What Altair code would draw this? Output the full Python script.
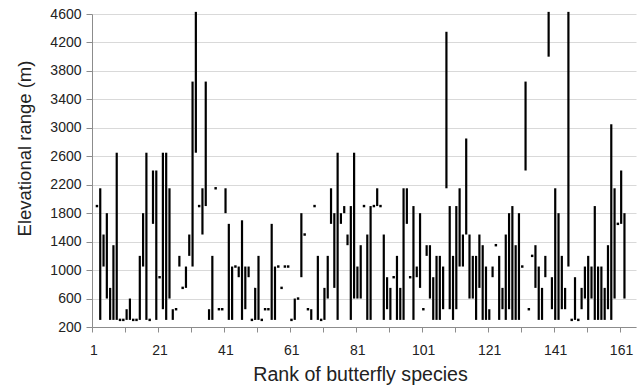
import altair as alt
import pandas as pd

# Species rank (x) and elevational range low/high (m); low == high is a single-elevation record
rank = [
    2, 3, 4, 5, 6, 7, 8, 9, 10, 11,
    12, 13, 14, 15, 16, 17, 18, 19, 20, 21,
    22, 23, 24, 25, 26, 27, 28, 29, 30, 31,
    32, 33, 34, 35, 36, 37, 38, 39, 40, 41,
    42, 43, 44, 45, 46, 47, 48, 49, 50, 51,
    52, 53, 54, 55, 56, 57, 58, 59, 60, 61,
    62, 63, 64, 65, 66, 67, 68, 69, 70, 71,
    72, 73, 74, 75, 76, 77, 78, 79, 80, 81,
    82, 83, 84, 85, 86, 87, 88, 89, 90, 91,
    92, 93, 94, 95, 96, 97, 98, 99, 100, 101,
    102, 103, 104, 105, 106, 107, 108, 109, 110, 111,
    112, 113, 114, 115, 116, 117, 118, 119, 120, 121,
    122, 123, 124, 125, 126, 127, 128, 129, 130, 131,
    132, 133, 134, 135, 136, 137, 138, 139, 140, 141,
    142, 143, 144, 145, 146, 147, 148, 149, 150, 151,
    152, 153, 154, 155, 156, 157, 158, 159, 160, 161,
    162,
]
low = [
    1900, 300, 1050, 600, 300, 300, 300, 300, 300, 300,
    300, 300, 300, 300, 1050, 300, 300, 1650, 300, 900,
    450, 300, 600, 300, 450, 1050, 750, 750, 1200, 1050,
    2650, 1900, 1500, 1900, 300, 300, 2150, 450, 450, 1800,
    300, 300, 1050, 900, 300, 450, 900, 300, 300, 300,
    300, 450, 450, 300, 300, 1050, 750, 1050, 1050, 300,
    300, 600, 900, 1500, 450, 300, 1900, 300, 300, 300,
    600, 1650, 750, 300, 1650, 1800, 1350, 300, 600, 600,
    600, 1900, 300, 300, 1900, 1900, 1900, 300, 450, 300,
    900, 300, 300, 300, 1650, 900, 300, 900, 750, 450,
    1200, 600, 300, 300, 300, 450, 2150, 450, 300, 450,
    1050, 1050, 1500, 600, 600, 300, 750, 300, 300, 300,
    900, 1350, 300, 450, 300, 450, 300, 300, 300, 1050,
    2400, 450, 1200, 750, 300, 300, 900, 4000, 450, 300,
    300, 450, 450, 1050, 300, 300, 300, 450, 600, 300,
    600, 300, 300, 300, 300, 450, 300, 600, 1650, 1650,
    600,
]
high = [
    1900, 2150, 1500, 1800, 750, 1350, 2650, 300, 300, 450,
    600, 300, 300, 1200, 1800, 2650, 300, 2400, 2400, 900,
    2650, 2650, 2150, 450, 450, 1200, 750, 1050, 1500, 3650,
    4630, 1900, 2150, 3650, 450, 1200, 2150, 450, 450, 2150,
    1650, 1050, 1050, 1050, 1700, 1050, 1050, 300, 750, 1200,
    300, 450, 450, 1650, 1050, 1050, 750, 1050, 1050, 300,
    600, 600, 1800, 1500, 450, 450, 1900, 1200, 300, 750,
    1200, 2150, 1800, 2650, 1800, 1900, 1500, 1900, 2650, 1050,
    1350, 1900, 1500, 1900, 1900, 2150, 1900, 1500, 900, 750,
    900, 1200, 750, 2150, 2150, 900, 1900, 1050, 1800, 450,
    1350, 1350, 900, 1200, 1200, 1050, 4350, 1900, 1200, 1900,
    2150, 1500, 2850, 1500, 1200, 1200, 1500, 1350, 1050, 450,
    1050, 1350, 1200, 750, 1500, 1800, 1900, 1350, 1800, 1050,
    3650, 450, 1200, 1350, 1050, 750, 1200, 4630, 900, 2150,
    1800, 1200, 750, 4630, 300, 900, 300, 750, 1050, 1200,
    1050, 1900, 1050, 1050, 750, 1350, 3050, 2150, 1650, 2400,
    1800,
]

# Axis tick positions and labels
x_tick_values = [0.5, 10.5, 20.5, 30.5, 40.5, 50.5, 60.5, 70.5, 80.5,
                 90.5, 100.5, 110.5, 120.5, 130.5, 140.5, 150.5, 160.5]
x_label_ranks = [1, 21, 41, 61, 81, 101, 121, 141, 161]
y_tick_values = [200, 600, 1000, 1400, 1800, 2200, 2600, 3000, 3400, 3800, 4200, 4600]

df = pd.DataFrame({"rank": rank, "low": low, "high": high})
ranges = df[df["low"] != df["high"]]
points = df[df["low"] == df["high"]]

FONT = "Liberation Sans"
x_scale = alt.Scale(domain=[0.5, 165.5], nice=False, zero=False)
y_scale = alt.Scale(domain=[200, 4600], nice=False, zero=False)

label_list = ",".join(str(v) for v in x_label_ranks)
x_axis = alt.Axis(
    values=x_tick_values,
    labelExpr=f"indexof([{label_list}], datum.value + 0.5) >= 0 ? format(datum.value + 0.5, 'd') : ''",
    grid=False,
    domainColor="#8c8c8c",
    tickColor="#8c8c8c",
    tickSize=5,
    labelPadding=11,
    labelOffset=1.5,
    labelOverlap=False,
    labelFlush=False,
    titleX=268,
    titleY=53,
    titleBaseline="alphabetic",
    titleAlign="center",
)
y_axis = alt.Axis(
    values=y_tick_values,
    format="d",
    grid=True,
    gridColor="#d9d9d9",
    gridWidth=1,
    domainColor="#8c8c8c",
    tickColor="#8c8c8c",
    tickSize=6,
    labelPadding=5,
    labelOverlap=False,
    labelFlush=False,
    titleAngle=270,
    titleX=-62,
    titleY=134,
    titleBaseline="alphabetic",
    titleAlign="center",
)

X = alt.X("rank:Q", scale=x_scale, axis=x_axis, title="Rank of butterfly species")

bars = alt.Chart(ranges).mark_rule(color="black", strokeWidth=2.2).encode(
    x=X,
    y=alt.Y("low:Q", scale=y_scale, axis=y_axis, title="Elevational range (m)"),
    y2="high:Q",
)
dots = alt.Chart(points).mark_square(color="black", size=6, opacity=1).encode(
    x=X,
    y=alt.Y("low:Q", scale=y_scale, axis=y_axis, title="Elevational range (m)"),
)

chart = (
    alt.layer(bars, dots)
    .properties(
        width=544,
        height=313,
        autosize="none",
        padding={"left": 92, "top": 14, "right": 6, "bottom": 60},
        background="white",
    )
    .configure_view(stroke=None)
    .configure_axis(
        labelFont=FONT,
        labelFontSize=14,
        labelColor="#222222",
        titleFont=FONT,
        titleFontWeight="normal",
        titleColor="#222222",
    )
    .configure_axisX(titleFontSize=19.6)
    .configure_axisY(titleFontSize=18.5)
)

chart.save("out.html", embed_options={"renderer": "svg", "actions": False})
